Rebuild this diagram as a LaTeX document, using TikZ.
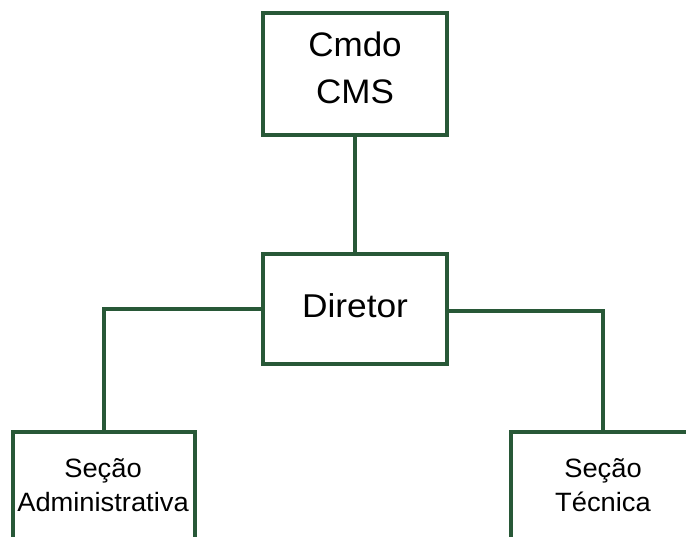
\documentclass[tikz,border=0pt]{standalone}
\usepackage{fontspec}
\setmainfont{Liberation Sans}
\newfontfamily\widefont[FakeStretch=1.07]{Liberation Sans}
\newfontfamily\semiwide[FakeStretch=1.03]{Liberation Sans}
\definecolor{boxgreen}{RGB}{40,88,55}
\begin{document}
\begin{tikzpicture}[x=1pt,y=-1pt,
  box/.style={draw=boxgreen,line width=3.6pt,fill=white,inner sep=0pt,line join=miter},
  conn/.style={draw=boxgreen,line width=3.6pt,line join=miter},
  bigtxt/.style={font=\semiwide\fontsize{34}{47}\selectfont,align=center,inner sep=0pt},
  midtxt/.style={font=\widefont\fontsize{33}{40}\selectfont,inner sep=0pt},
  smalltxt/.style={font=\semiwide\fontsize{26.5}{34}\selectfont,align=center,inner sep=0pt}]
\useasboundingbox (0,0) rectangle (686,537);
\node[box,minimum width=184pt,minimum height=122pt] (cmdo) at (355,74) {};
\node[box,minimum width=184pt,minimum height=110pt] (dir) at (355,309) {};
\node[box,minimum width=182pt,minimum height=110pt] (adm) at (104,487) {};
\node[box,minimum width=184pt,minimum height=110pt] (tec) at (603,487) {};
\draw[conn] (cmdo.south) -- (dir.north);
\draw[conn] (dir.west) -| (adm.north);
\draw[conn] ([yshift=-2pt]dir.east) -| (tec.north);
\node[bigtxt] (cmdotxt) at (355,67.5) {Cmdo\\CMS};
\node[midtxt,anchor=base] (dirtxt) at (355,318) {Diretor};
\node[smalltxt] (admtxt) at (103,485) {Seção\\Administrativa};
\node[smalltxt] (tectxt) at (603,485) {Seção\\Técnica};
\end{tikzpicture}
\end{document}
